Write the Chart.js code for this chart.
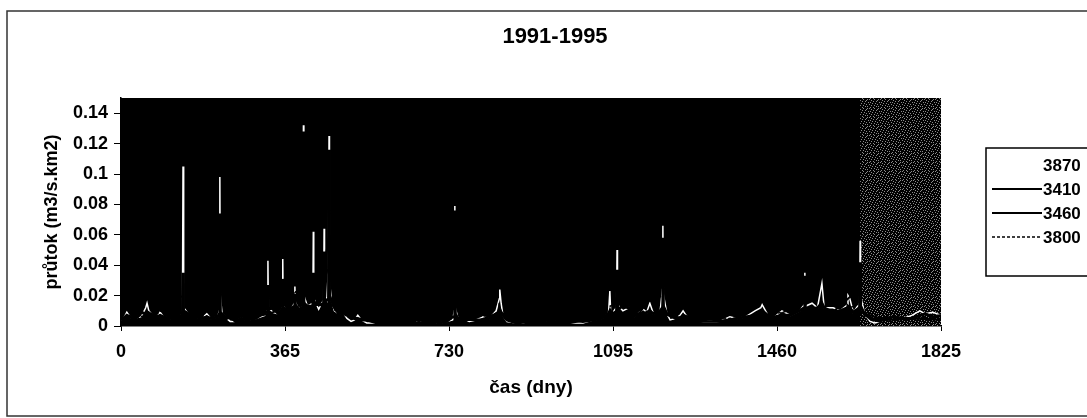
<!DOCTYPE html>
<html>
<head>
<meta charset="utf-8">
<script src="https://cdn.jsdelivr.net/npm/chart.js@4.4.1/dist/chart.umd.min.js"></script>
<style>
  html, body { margin: 0; background: #fff; }
  #wrap { width: 1087px; height: 418px; position: relative; }
</style>
</head>
<body>
<div id="wrap"><canvas id="chart"></canvas></div>
<script>
const chartTitle = "1991-1995";
const xTitle = "čas (dny)";
const yTitle = "průtok (m3/s.km2)";
const seriesNames = ["3870", "3410", "3460", "3800"];
const xTicks = [0, 365, 730, 1095, 1460, 1825];
const yTicks = [0, 0.02, 0.04, 0.06, 0.08, 0.1, 0.12, 0.14];

// station 3870 (white line)
const days3870 = [0, 6, 13, 20, 30, 45, 55, 58, 62, 70, 80, 87, 95, 110, 125, 131, 136, 137, 138, 139, 140, 150, 165, 180, 191, 200,
  215, 219, 220, 221, 225, 235, 243, 255, 268, 280, 300, 320, 326, 327, 328, 338, 350, 359, 360, 361, 370, 380, 386, 387, 388,
  395, 405, 406, 407, 415, 427, 428, 429, 440, 445, 451, 452, 453, 458, 461, 462, 463, 464, 468, 475, 485, 494, 503, 512, 520,
  527, 535, 547, 570, 600, 630, 660, 690, 710, 725, 738, 742, 743, 744, 750, 761, 775, 790, 806, 820, 835, 842, 843, 846, 850,
  859, 880, 910, 940, 970, 1006, 1028, 1050, 1070, 1085, 1088, 1090, 1103, 1104, 1105, 1117, 1130, 1140, 1150, 1162, 1170, 1177,
  1185, 1200, 1205, 1206, 1207, 1215, 1222, 1235, 1244, 1251, 1260, 1275, 1290, 1310, 1333, 1355, 1370, 1390, 1411, 1424, 1427,
  1440, 1455, 1471, 1490, 1510, 1521, 1522, 1523, 1538, 1550, 1560, 1565, 1585, 1600, 1617, 1618, 1622, 1630, 1644, 1645, 1646,
  1655, 1667, 1678, 1689, 1700, 1720, 1740, 1760, 1778, 1790, 1807, 1825];
const flow3870 = [0.004, 0.005, 0.009, 0.006, 0.004, 0.006, 0.012, 0.015, 0.010, 0.007, 0.006, 0.009, 0.006, 0.005, 0.007, 0.006, 0.008, 0.030, 0.105, 0.040, 0.012, 0.008, 0.006, 0.005, 0.008, 0.005,
  0.006, 0.010, 0.098, 0.020, 0.008, 0.005, 0.003, 0.003, 0.005, 0.004, 0.005, 0.007, 0.010, 0.043, 0.012, 0.009, 0.008, 0.012, 0.044, 0.013, 0.010, 0.012, 0.015, 0.026, 0.016,
  0.011, 0.014, 0.132, 0.020, 0.013, 0.015, 0.062, 0.018, 0.011, 0.014, 0.017, 0.064, 0.020, 0.017, 0.034, 0.050, 0.125, 0.030, 0.017, 0.010, 0.008, 0.009, 0.005, 0.003, 0.004,
  0.007, 0.004, 0.002, 0.002, 0.002, 0.002, 0.003, 0.002, 0.002, 0.003, 0.004, 0.010, 0.079, 0.012, 0.005, 0.005, 0.003, 0.004, 0.006, 0.005, 0.010, 0.018, 0.024, 0.015, 0.007,
  0.003, 0.002, 0.002, 0.002, 0.003, 0.002, 0.002, 0.004, 0.005, 0.008, 0.023, 0.008, 0.012, 0.050, 0.014, 0.010, 0.012, 0.006, 0.008, 0.011, 0.009, 0.015,
  0.008, 0.010, 0.024, 0.066, 0.021, 0.008, 0.004, 0.005, 0.007, 0.010, 0.006, 0.004, 0.003, 0.003, 0.003, 0.006, 0.005, 0.006, 0.010, 0.012, 0.014,
  0.007, 0.006, 0.010, 0.007, 0.010, 0.014, 0.035, 0.013, 0.015, 0.012, 0.028, 0.012, 0.012, 0.010, 0.014, 0.020, 0.018, 0.009, 0.015, 0.056, 0.020,
  0.008, 0.003, 0.002, 0.003, 0.005, 0.006, 0.005, 0.007, 0.010, 0.008, 0.009, 0.007];

// station 3410
const days3410 = [0, 6, 13, 20, 30, 45, 55, 60, 70, 80, 87, 95, 110, 125, 131, 137, 138, 139, 150, 165, 180, 191, 200, 215, 219, 220, 221,
  235, 243, 255, 268, 280, 300, 320, 326, 327, 328, 338, 350, 359, 360, 361, 370, 380, 386, 387, 388, 395, 405, 406, 407, 415,
  427, 428, 429, 440, 445, 451, 452, 453, 458, 462, 463, 464, 468, 475, 485, 494, 503, 512, 527, 535, 547, 570, 600, 630, 660,
  690, 710, 725, 738, 742, 743, 744, 750, 761, 775, 790, 806, 820, 835, 842, 843, 846, 850, 859, 880, 910, 940, 970, 1006, 1028,
  1050, 1070, 1085, 1088, 1090, 1103, 1104, 1105, 1117, 1130, 1140, 1150, 1162, 1170, 1177, 1185, 1200, 1205, 1206, 1207, 1215,
  1222, 1235, 1244, 1251, 1260, 1275, 1290, 1310, 1333, 1355, 1370, 1390, 1411, 1424, 1427, 1440, 1455, 1471, 1490, 1510, 1521,
  1522, 1523, 1538, 1550, 1560, 1565, 1585, 1600, 1617, 1618, 1622, 1630, 1644, 1645, 1646, 1655, 1667, 1678, 1689, 1700, 1720,
  1740, 1760, 1778, 1790, 1807, 1825];
const flow3410 = [0.004, 0.005, 0.007, 0.006, 0.004, 0.009, 0.008, 0.009, 0.007, 0.006, 0.007, 0.006, 0.005, 0.007, 0.006, 0.008, 0.035, 0.010, 0.008, 0.006, 0.005, 0.006, 0.005, 0.006, 0.008, 0.074, 0.009,
  0.005, 0.006, 0.003, 0.005, 0.004, 0.005, 0.009, 0.009, 0.027, 0.011, 0.012, 0.008, 0.011, 0.031, 0.012, 0.010, 0.012, 0.013, 0.021, 0.014, 0.011, 0.012, 0.128, 0.015, 0.013,
  0.013, 0.035, 0.016, 0.014, 0.014, 0.015, 0.049, 0.016, 0.017, 0.018, 0.116, 0.020, 0.017, 0.012, 0.008, 0.009, 0.008, 0.006, 0.004, 0.004, 0.004, 0.002, 0.002, 0.002, 0.004,
  0.003, 0.002, 0.003, 0.006, 0.006, 0.076, 0.008, 0.005, 0.005, 0.005, 0.004, 0.004, 0.005, 0.008, 0.008, 0.011, 0.009, 0.007, 0.004, 0.002, 0.003, 0.002, 0.003, 0.004, 0.003,
  0.004, 0.005, 0.008, 0.010, 0.008, 0.009, 0.037, 0.011, 0.013, 0.012, 0.006, 0.008, 0.008, 0.009, 0.010, 0.008, 0.010, 0.012, 0.058, 0.013, 0.008,
  0.007, 0.005, 0.005, 0.007, 0.006, 0.004, 0.003, 0.005, 0.003, 0.004, 0.005, 0.006, 0.007, 0.009, 0.010, 0.007, 0.006, 0.007, 0.007, 0.010, 0.012,
  0.033, 0.011, 0.011, 0.012, 0.015, 0.012, 0.009, 0.010, 0.012, 0.013, 0.012, 0.009, 0.012, 0.042, 0.013, 0.008, 0.005, 0.004, 0.003, 0.005, 0.006,
  0.005, 0.005, 0.007, 0.008, 0.006, 0.007];

// station 3460
const days3460 = [0, 30, 60, 100, 137, 138, 139, 180, 220, 221, 260, 330, 360, 400, 406, 407, 440, 463, 464, 500, 560, 640, 700,
  743, 744, 800, 843, 900, 1000, 1090, 1104, 1105, 1150, 1206, 1207, 1280, 1380, 1430, 1522, 1523, 1580, 1645, 1646, 1700, 1780, 1825];
const flow3460 = [0.003, 0.004, 0.006, 0.005, 0.009, 0.028, 0.008, 0.006, 0.030, 0.007, 0.004, 0.008, 0.012, 0.010, 0.045, 0.012, 0.014, 0.060, 0.015, 0.007, 0.003, 0.002, 0.002,
  0.030, 0.004, 0.004, 0.009, 0.002, 0.002, 0.007, 0.020, 0.008, 0.007, 0.030, 0.008, 0.003, 0.003, 0.006, 0.018, 0.007, 0.008, 0.025, 0.009, 0.004, 0.005, 0.004];

// station 3800
const days3800 = [0, 40, 80, 138, 139, 200, 220, 221, 280, 330, 360, 406, 407, 430, 463, 464, 520, 600, 700, 743, 744, 843, 920,
  1010, 1104, 1105, 1206, 1207, 1300, 1420, 1522, 1600, 1645, 1646, 1720, 1825];
const flow3800 = [0.005, 0.006, 0.008, 0.020, 0.007, 0.006, 0.015, 0.006, 0.004, 0.009, 0.010, 0.030, 0.010, 0.012, 0.040, 0.012, 0.005, 0.003, 0.003, 0.015, 0.004, 0.008, 0.003,
  0.003, 0.015, 0.007, 0.020, 0.007, 0.004, 0.006, 0.012, 0.009, 0.015, 0.007, 0.005, 0.005];

const toPoints = (days, flows) => days.map((d, i) => ({ x: d, y: flows[i] }));

const FONT = '"Liberation Sans", Arial, sans-serif';
Chart.defaults.font.family = FONT;
Chart.defaults.color = "#000";

// grainy grey patch at the right end of the plot
const speckleFrom = 1645;
const speckleTile = [
  "10000100010",
  "00100000100",
  "00001001000",
  "01000000001",
  "00010010000",
  "10000000100",
  "00100100000",
  "00000001010",
  "01001000000",
];
function makeSpeckle(ctx) {
  const c = document.createElement("canvas");
  c.width = speckleTile[0].length;
  c.height = speckleTile.length;
  const g = c.getContext("2d");
  g.fillStyle = "#000";
  g.fillRect(0, 0, c.width, c.height);
  g.fillStyle = "#8a8a8a";
  speckleTile.forEach((row, y) => [...row].forEach((b, x) => { if (b === "1") g.fillRect(x, y, 1, 1); }));
  return ctx.createPattern(c, "repeat");
}

const plotBg = {
  id: "plotBg",
  beforeDatasetsDraw(chart) {
    const { ctx, chartArea: a, scales } = chart;
    ctx.save();
    ctx.fillStyle = "#000";
    ctx.fillRect(a.left, a.top, a.width, a.height);
    const sx = scales.x.getPixelForValue(speckleFrom);
    ctx.fillStyle = makeSpeckle(ctx);
    ctx.fillRect(sx, a.top, a.right - sx, a.height);
    ctx.restore();
  },
};

const frame = {
  id: "frame",
  afterDraw(chart) {
    const { ctx } = chart;
    ctx.save();
    // outer border
    ctx.strokeStyle = "#333";
    ctx.lineWidth = 1.5;
    ctx.strokeRect(7, 11, 1100, 405);
    // title
    ctx.fillStyle = "#000";
    ctx.font = "bold 22px " + FONT;
    ctx.textAlign = "center";
    ctx.textBaseline = "middle";
    ctx.fillText(chartTitle, 555, 37);
    // legend
    const lx = 986, ly = 148;
    ctx.fillStyle = "#fff";
    ctx.fillRect(lx, ly, 110, 128);
    ctx.strokeStyle = "#000";
    ctx.lineWidth = 1.5;
    ctx.strokeRect(lx, ly, 110, 128);
    ctx.font = "bold 17px " + FONT;
    ctx.textAlign = "left";
    chart.data.datasets.forEach((ds, i) => {
      const y = 165 + i * 24;
      ctx.beginPath();
      ctx.strokeStyle = ds.borderColor;
      ctx.lineWidth = Math.min(ds.borderWidth, 2);
      ctx.setLineDash(ds.borderDash || []);
      ctx.moveTo(992, y);
      ctx.lineTo(1042, y);
      ctx.stroke();
      ctx.setLineDash([]);
      ctx.fillStyle = "#000";
      ctx.fillText(ds.label, 1043, y + 1);
    });
    ctx.restore();
  },
};

new Chart(document.getElementById("chart"), {
  type: "line",
  data: {
    datasets: [
      { label: seriesNames[0], data: toPoints(days3870, flow3870), borderColor: "#fff", borderWidth: 1.5, order: 4 },
      { label: seriesNames[1], data: toPoints(days3410, flow3410), borderColor: "#000", borderWidth: 3, order: 1 },
      { label: seriesNames[2], data: toPoints(days3460, flow3460), borderColor: "#000", borderWidth: 2, order: 2 },
      { label: seriesNames[3], data: toPoints(days3800, flow3800), borderColor: "#000", borderWidth: 1.5, borderDash: [3, 2], order: 3 },
    ],
  },
  options: {
    responsive: true,
    maintainAspectRatio: false,
    animation: false,
    layout: { padding: { left: 0, top: 98, right: 146, bottom: 0 } },
    elements: { point: { radius: 0 }, line: { tension: 0 } },
    plugins: { legend: { display: false }, title: { display: false }, tooltip: { enabled: false } },
    scales: {
      x: {
        type: "linear",
        min: 0,
        max: 1825,
        afterFit: (s) => { s.height = 92; },
        afterBuildTicks: (s) => { s.ticks = xTicks.map((v) => ({ value: v })); },
        ticks: { font: { size: 18, weight: "bold" }, padding: 10, maxRotation: 0, callback: (v) => String(v) },
        grid: { drawOnChartArea: false, tickLength: 5, color: "#000" },
        border: { color: "#000", width: 1.5 },
        title: { display: true, text: xTitle, font: { size: 19, weight: "bold" }, padding: { top: 4, bottom: 19 } },
      },
      y: {
        min: 0,
        max: 0.15,
        afterFit: (s) => { s.width = 121; },
        afterBuildTicks: (s) => { s.ticks = yTicks.map((v) => ({ value: v })); },
        ticks: { font: { size: 18, weight: "bold" }, padding: 6, callback: (v) => String(+v.toFixed(2)) },
        grid: { drawOnChartArea: false, tickLength: 7, color: "#000" },
        border: { color: "#000", width: 1.5 },
        title: { display: true, text: yTitle, font: { size: 18, weight: "bold" }, padding: { top: 41, bottom: 4 } },
      },
    },
  },
  plugins: [plotBg, frame],
});
</script>
</body>
</html>
